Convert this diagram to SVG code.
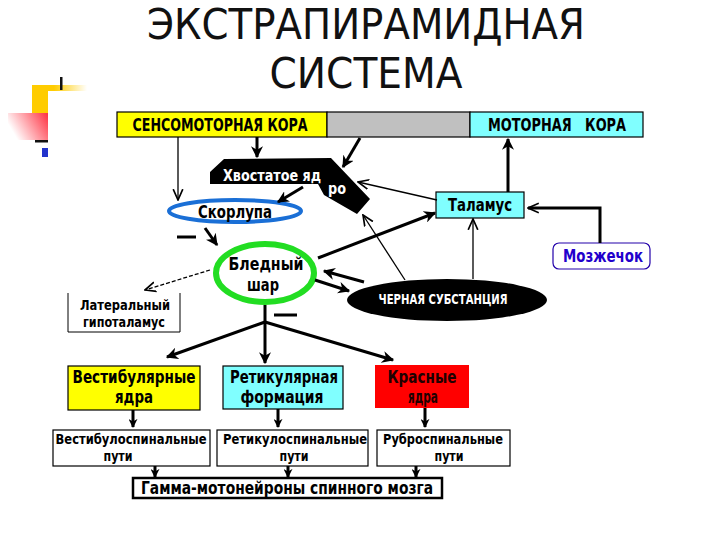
<svg xmlns="http://www.w3.org/2000/svg" width="720" height="540" viewBox="0 0 720 540">
<defs>
<linearGradient id="gy" x1="0" y1="0" x2="1" y2="0"><stop offset="0" stop-color="#ffcc00"/><stop offset="0.4" stop-color="#ffcc00"/><stop offset="1" stop-color="#ffcc00" stop-opacity="0"/></linearGradient>
<linearGradient id="gr" x1="1" y1="0" x2="0" y2="0.4"><stop offset="0" stop-color="#ff3040"/><stop offset="1" stop-color="#ff3040" stop-opacity="0"/></linearGradient>
<marker id="af" viewBox="0 0 10 10" refX="9" refY="5" markerWidth="12" markerHeight="12" markerUnits="userSpaceOnUse" orient="auto"><path d="M0,0 L10,5 L0,10 L3,5 z" fill="#000"/></marker>
<marker id="as" viewBox="0 0 10 10" refX="9" refY="5" markerWidth="9" markerHeight="9" markerUnits="userSpaceOnUse" orient="auto"><path d="M0,0 L10,5 L0,10 L3,5 z" fill="#000"/></marker>
<marker id="ao" viewBox="0 0 10 10" refX="9" refY="5" markerWidth="12" markerHeight="12" markerUnits="userSpaceOnUse" orient="auto"><path d="M0,1 L9,5 L0,9" fill="none" stroke="#000" stroke-width="1.4"/></marker>
</defs>
<style>
.t{font-family:"Liberation Sans Narrow","DejaVu Sans Condensed","Liberation Sans",sans-serif;font-weight:bold;text-anchor:middle}
.title{font-family:"DejaVu Sans Condensed","Liberation Sans",sans-serif;font-size:43px;fill:#111;text-anchor:middle}
.thick{stroke:#000;stroke-width:3;fill:none}
.thin{stroke:#000;stroke-width:1.3;fill:none}
.box{stroke:#000;stroke-width:1.2}
</style>
<rect width="720" height="540" fill="#fff"/>
<g id="decor">
<rect x="32" y="85" width="55" height="6" fill="url(#gy)"/>
<rect x="32" y="85" width="16" height="28" fill="#ffcc00"/>
<rect x="8" y="113" width="40" height="27" fill="url(#gr)"/>
<rect x="60" y="77" width="2.5" height="13" fill="#111"/>
<rect x="35" y="140" width="13" height="2.5" fill="#111"/>
<rect x="42" y="148" width="6" height="9" fill="#2233cc"/>
</g>
<g id="title">
<text class="title" x="366" y="39" textLength="438" lengthAdjust="spacingAndGlyphs">ЭКСТРАПИРАМИДНАЯ</text>
<text class="title" x="366" y="88" textLength="193" lengthAdjust="spacingAndGlyphs">СИСТЕМА</text>
</g>
<g id="sensomotor">
<rect class="box" x="117" y="112" width="210" height="25" fill="#ffff00"/>
<text class="t" x="220" y="131" font-size="18" textLength="175" lengthAdjust="spacingAndGlyphs">СЕНСОМОТОРНАЯ КОРА</text>
</g>
<g id="gray">
<rect class="box" x="327" y="112" width="143" height="25" fill="#c0c0c0"/>
</g>
<g id="motor">
<rect class="box" x="470" y="112" width="173" height="25" fill="#80ffff"/>
<text class="t" x="557" y="131" font-size="18" textLength="138" lengthAdjust="spacingAndGlyphs" xml:space="preserve">МОТОРНАЯ   КОРА</text>
</g>
<g id="caudate">
<polygon points="210,172 224,159 331,158 370,199 357,214 324,195 318,184 210,184" fill="#000"/>
<text class="t" x="272" y="181" font-size="16" fill="#fff" textLength="98" lengthAdjust="spacingAndGlyphs">Хвостатое яд</text>
<text class="t" x="337" y="194" font-size="16" fill="#fff" textLength="18" lengthAdjust="spacingAndGlyphs">ро</text>
</g>
<g id="putamen">
<ellipse cx="235" cy="211" rx="66" ry="11" fill="#fff" stroke="#1a6fd6" stroke-width="4"/>
<text class="t" x="235" y="218" font-size="17" textLength="74" lengthAdjust="spacingAndGlyphs">Скорлупа</text>
</g>
<g id="thalamus">
<rect class="box" x="436" y="192" width="88" height="26" fill="#80ffff"/>
<text class="t" x="480" y="211" font-size="18" textLength="64" lengthAdjust="spacingAndGlyphs">Таламус</text>
</g>
<g id="cerebellum">
<rect x="553" y="243" width="97" height="26" rx="6" fill="#fff" stroke="#2200aa" stroke-width="1.2"/>
<text class="t" x="603" y="262" font-size="17" fill="#2200cc" textLength="80" lengthAdjust="spacingAndGlyphs">Мозжечок</text>
</g>
<g id="pallidum">
<ellipse cx="265" cy="273" rx="49" ry="29" fill="#fff" stroke="#22dd22" stroke-width="6"/>
<text class="t" x="266" y="270" font-size="17" textLength="75" lengthAdjust="spacingAndGlyphs">Бледный</text>
<text class="t" x="263" y="291" font-size="17" textLength="32" lengthAdjust="spacingAndGlyphs">шар</text>
</g>
<g id="nigra">
<ellipse cx="447" cy="300" rx="100" ry="21" fill="#000"/>
<text class="t" x="443" y="304" font-size="14" fill="#fff" textLength="129" lengthAdjust="spacingAndGlyphs">ЧЕРНАЯ  СУБСТАНЦИЯ</text>
</g>
<g id="hypothalamus">
<path d="M68,293 V332 H180 V293" fill="#fff" stroke="#000" stroke-width="1"/>
<text class="t" x="125" y="310" font-size="14" textLength="90" lengthAdjust="spacingAndGlyphs">Латеральный</text>
<text class="t" x="124" y="327" font-size="14" textLength="82" lengthAdjust="spacingAndGlyphs">гипоталамус</text>
</g>
<g id="vestibular">
<rect class="box" x="68" y="366" width="132" height="44" fill="#ffff00"/>
<text class="t" x="134" y="383" font-size="17" textLength="123" lengthAdjust="spacingAndGlyphs">Вестибулярные</text>
<text class="t" x="134" y="403" font-size="17" textLength="38" lengthAdjust="spacingAndGlyphs">ядра</text>
</g>
<g id="reticular">
<rect class="box" x="223" y="366" width="120" height="43" fill="#80ffff"/>
<text class="t" x="284" y="383" font-size="17" textLength="108" lengthAdjust="spacingAndGlyphs">Ретикулярная</text>
<text class="t" x="282" y="403" font-size="17" textLength="83" lengthAdjust="spacingAndGlyphs">формация</text>
</g>
<g id="red">
<rect x="375" y="365" width="94" height="43" fill="#ff0000"/>
<text class="t" x="422" y="383" font-size="17" fill="#200000" textLength="69" lengthAdjust="spacingAndGlyphs">Красные</text>
<text class="t" x="423" y="403" font-size="17" fill="#200000" textLength="30" lengthAdjust="spacingAndGlyphs">ядра</text>
</g>
<g id="vestibulospinal">
<rect class="box" x="53" y="430" width="157" height="36" fill="#fff"/>
<text class="t" x="131" y="444" font-size="14" textLength="151" lengthAdjust="spacingAndGlyphs">Вестибулоспинальные</text>
<text class="t" x="118" y="461" font-size="14" textLength="29" lengthAdjust="spacingAndGlyphs">пути</text>
</g>
<g id="reticulospinal">
<rect class="box" x="217" y="430" width="151" height="36" fill="#fff"/>
<text class="t" x="295" y="444" font-size="14" textLength="144" lengthAdjust="spacingAndGlyphs">Ретикулоспинальные</text>
<text class="t" x="294" y="461" font-size="14" textLength="29" lengthAdjust="spacingAndGlyphs">пути</text>
</g>
<g id="rubrospinal">
<rect class="box" x="377" y="430" width="133" height="36" fill="#fff"/>
<text class="t" x="443" y="444" font-size="14" textLength="120" lengthAdjust="spacingAndGlyphs">Руброспинальные</text>
<text class="t" x="449" y="461" font-size="14" textLength="29" lengthAdjust="spacingAndGlyphs">пути</text>
</g>
<g id="gamma">
<rect x="133" y="478" width="309" height="20" fill="#fff" stroke="#000" stroke-width="2.5"/>
<text class="t" x="287" y="494" font-size="17" textLength="292" lengthAdjust="spacingAndGlyphs">Гамма-мотонейроны спинного мозга</text>
</g>
<g id="connectors">
<line class="thin" x1="178" y1="137" x2="178" y2="200" marker-end="url(#ao)"/>
<line class="thick" x1="257" y1="137" x2="257" y2="157" marker-end="url(#af)"/>
<line class="thick" x1="360" y1="138" x2="343" y2="167" marker-end="url(#af)"/>
<line class="thick" x1="303" y1="187" x2="278" y2="202" marker-end="url(#af)"/>
<line class="thick" x1="205" y1="228" x2="217" y2="245" marker-end="url(#af)"/>
<line class="thin" x1="437" y1="200" x2="358" y2="182" marker-end="url(#ao)"/>
<line class="thick" x1="508" y1="192" x2="508" y2="139" marker-end="url(#af)"/>
<path class="thick" d="M600,243 V208 H528" marker-end="url(#ao)"/>
<line class="thin" x1="473" y1="279" x2="473" y2="219" marker-end="url(#ao)"/>
<line class="thin" x1="405" y1="280" x2="363" y2="215" marker-end="url(#ao)"/>
<line class="thick" x1="318" y1="258" x2="435" y2="213" marker-end="url(#af)"/>
<line class="thick" x1="364" y1="282" x2="324" y2="271" marker-end="url(#af)"/>
<line class="thick" x1="315" y1="280" x2="349" y2="291" marker-end="url(#af)"/>
<line class="thin" x1="210" y1="270" x2="145" y2="290" stroke-dasharray="4,2" marker-end="url(#ao)"/>
<line class="thick" x1="265" y1="305" x2="265" y2="322"/>
<line class="thick" x1="265" y1="322" x2="167" y2="357" marker-end="url(#af)"/>
<line class="thick" x1="265" y1="322" x2="265" y2="363" marker-end="url(#af)"/>
<line class="thick" x1="265" y1="322" x2="393" y2="360" marker-end="url(#af)"/>
<line class="thick" x1="133" y1="410" x2="133" y2="427" marker-end="url(#as)"/>
<line class="thick" x1="278" y1="409" x2="278" y2="427" marker-end="url(#as)"/>
<line class="thick" x1="425" y1="408" x2="425" y2="427" marker-end="url(#as)"/>
<line class="thick" x1="155" y1="466" x2="155" y2="477" marker-end="url(#as)"/>
<line class="thick" x1="288" y1="466" x2="288" y2="477" marker-end="url(#as)"/>
<line class="thick" x1="416" y1="466" x2="416" y2="477" marker-end="url(#as)"/>
<line stroke="#000" stroke-width="3" x1="177" y1="237" x2="196" y2="237"/>
<line stroke="#000" stroke-width="3" x1="274" y1="315" x2="297" y2="315"/>
</g>
</svg>
